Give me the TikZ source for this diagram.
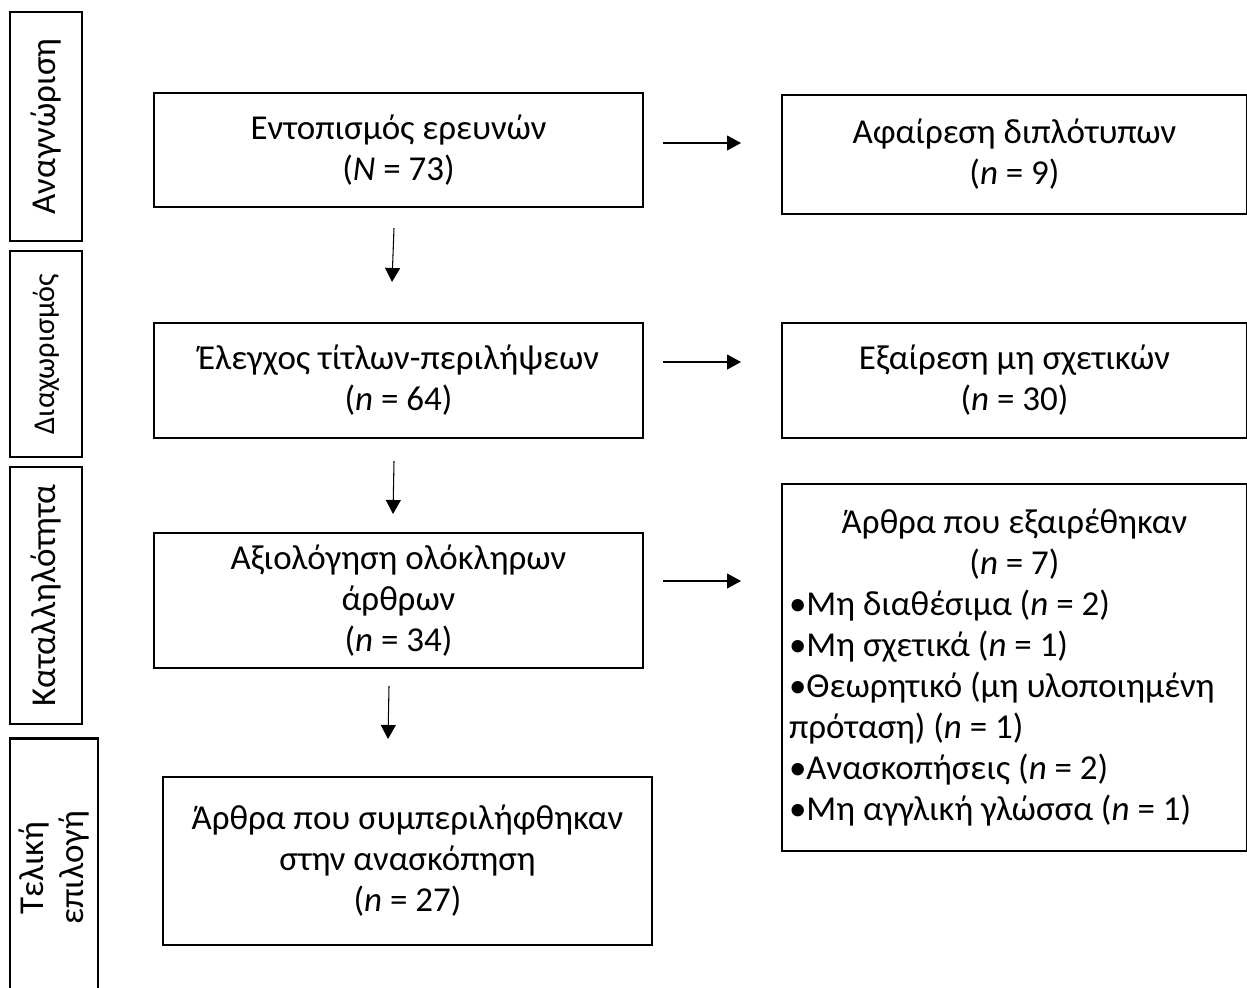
\documentclass[tikz,border=0pt]{standalone}
\usepackage{fontspec}
\setmainfont{Carlito}
\usetikzlibrary{arrows.meta}

\tikzset{
  box/.style={draw, line width=1.2pt, align=center, inner sep=0pt,
    font=\fontsize{19.9}{23.3}\selectfont},
  stage/.style={box, rotate=90},
  arr/.style={-{Triangle[length=0.28cm, width=0.3cm]}, line width=0.6pt},
}

\begin{document}
\begin{tikzpicture}[x=0.02cm, y=-0.02cm]

    \useasboundingbox (0,0) rectangle (1247,987);

    % 左侧阶段框
    \foreach \nm/\yc/\len/\fs/\txt in {s1/126.5/4.58/19.9/Αναγνώριση,
        s2/354/4.12/17.2/Διαχωρισμός, s3/595.5/5.14/19.9/Καταλληλότητα}{
        \node[stage, minimum width=\len cm, minimum height=1.44cm,
          font=\fontsize{\fs}{\fs}\selectfont] (\nm) at (46,\yc) {\txt};
    }
    \node[stage, minimum width=5.18cm, minimum height=1.76cm] (s4) at (54,868)
      {Τελική\\επιλογή};

    % 主流程框
    \node[box, minimum width=9.78cm, minimum height=2.28cm] (A) at (398.5,150)
      {Εντοπισμός ερευνών\\(\textit{N} = 73)};
    \node[box, minimum width=9.78cm, minimum height=2.3cm] (B) at (398.5,380.5)
      {Έλεγχος τίτλων-περιλήψεων\\(\textit{n} = 64)};
    \node[box, minimum width=9.78cm, minimum height=2.7cm] (C) at (398.5,600.5)
      {Αξιολόγηση ολόκληρων\\άρθρων\\(\textit{n} = 34)};
    \node[box, minimum width=9.78cm, minimum height=3.36cm] (D) at (407.5,861)
      {Άρθρα που συμπεριλήφθηκαν\\στην ανασκόπηση\\(\textit{n} = 27)};

    % 右侧排除框
    \node[box, minimum width=9.3cm, minimum height=2.38cm] (R1) at (1014.5,154.5)
      {Αφαίρεση διπλότυπων\\(\textit{n} = 9)};
    \node[box, minimum width=9.3cm, minimum height=2.3cm] (R2) at (1014.5,380.5)
      {Εξαίρεση μη σχετικών\\(\textit{n} = 30)};
    \node[box, align=none, minimum width=9.3cm, minimum height=7.34cm] (R3) at (1014.5,667.5)
      {\begin{minipage}{9.02cm}
       {\centering Άρθρα που εξαιρέθηκαν\\(\textit{n} = 7)\par}
       \raggedright
       •Μη διαθέσιμα (\textit{n} = 2)\\
       •Μη σχετικά (\textit{n} = 1)\\
       •Θεωρητικό (μη υλοποιημένη\\
       πρόταση) (\textit{n} = 1)\\
       •Ανασκοπήσεις (\textit{n} = 2)\\
       •Μη αγγλική γλώσσα (\textit{n} = 1)
       \end{minipage}};

    % 向下箭头
    \draw[arr] ([xshift=-0.09cm,yshift=-0.4cm]A.south) -- ([xshift=-0.13cm,yshift=0.8cm]B.north);
    \draw[arr] ([xshift=-0.09cm,yshift=-0.44cm]B.south) -- ([xshift=-0.11cm,yshift=0.36cm]C.north);
    \draw[arr] ([xshift=-0.19cm,yshift=-0.34cm]C.south) -- ([xshift=-0.39cm,yshift=0.74cm]D.north);

    % 向右箭头
    \draw[arr, shorten <=0.38cm, shorten >=0.8cm] ([yshift=0.14cm]A.east) -- ([yshift=0.14cm]A.east -| R1.west);
    \draw[arr, shorten <=0.38cm, shorten >=0.8cm] ([yshift=0.37cm]B.east) -- ([yshift=0.37cm]B.east -| R2.west);
    \draw[arr, shorten <=0.38cm, shorten >=0.8cm] ([yshift=0.39cm]C.east) -- ([yshift=0.39cm]C.east -| R3.west);

\end{tikzpicture}
\end{document}
